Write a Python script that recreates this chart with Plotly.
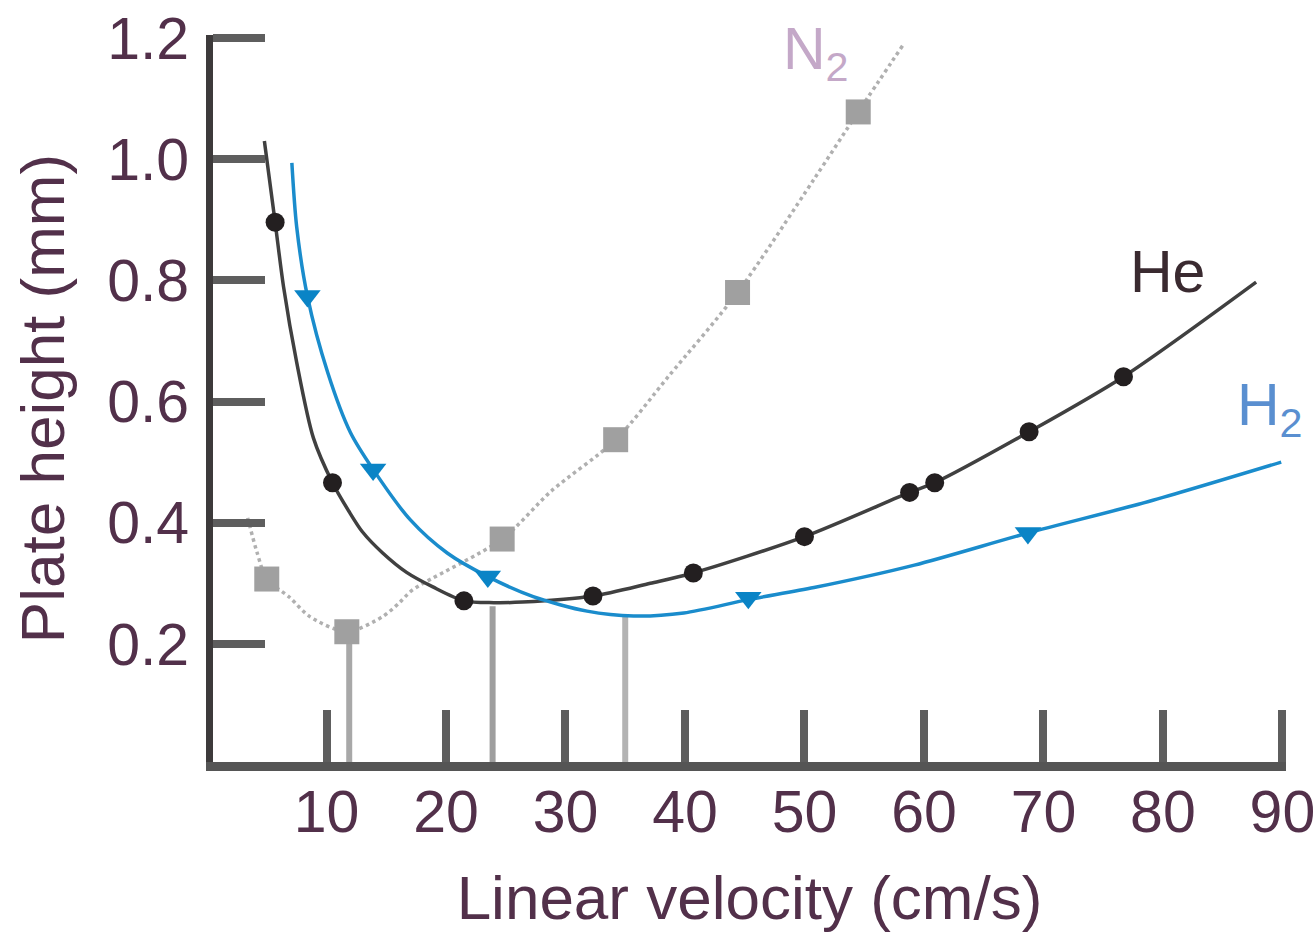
import plotly.graph_objects as go

# ---------------- data ----------------
# He curve (line) and measured points (markers)
he_curve_x = [4.8, 5.7, 6.4, 7.5, 8.9, 10.5, 11.9, 13.0, 14.7, 16.7, 18.9, 21.5, 24.0, 26.4, 32.3, 37.1, 40.7, 50.0, 58.8, 60.9, 68.8, 76.7, 87.8]
he_curve_y = [1.030, 0.896, 0.790, 0.665, 0.540, 0.466, 0.418, 0.385, 0.350, 0.318, 0.294, 0.271, 0.268, 0.269, 0.279, 0.300, 0.317, 0.377, 0.450, 0.466, 0.550, 0.641, 0.797]
he_pts_x = [5.7, 10.5, 21.5, 32.3, 40.7, 50.0, 58.8, 60.9, 68.8, 76.7]
he_pts_y = [0.896, 0.466, 0.271, 0.279, 0.317, 0.377, 0.450, 0.466, 0.550, 0.641]

# H2 curve and points
h2_curve_x = [7.1, 7.5, 8.4, 10.1, 12.0, 13.9, 17.0, 20.1, 23.5, 27.3, 31.8, 35.7, 39.9, 45.3, 50.8, 59.2, 68.7, 78.8, 89.9]
h2_curve_y = [0.994, 0.889, 0.774, 0.648, 0.549, 0.488, 0.405, 0.350, 0.311, 0.278, 0.254, 0.246, 0.251, 0.273, 0.293, 0.330, 0.383, 0.435, 0.500]
h2_pts_x = [8.4, 13.9, 23.5, 45.3, 68.7]
h2_pts_y = [0.774, 0.488, 0.311, 0.276, 0.383]

# N2 curve and points
n2_curve_x = [3.4, 4.2, 5.0, 6.9, 8.6, 11.7, 14.7, 16.1, 17.2, 24.7, 28.8, 34.2, 38.6, 44.4, 50.8, 54.5, 58.3]
n2_curve_y = [0.408, 0.350, 0.307, 0.277, 0.245, 0.220, 0.245, 0.268, 0.289, 0.373, 0.452, 0.537, 0.641, 0.780, 0.967, 1.078, 1.190]
n2_pts_x = [5.0, 11.7, 24.7, 34.2, 44.4, 54.5]
n2_pts_y = [0.307, 0.220, 0.373, 0.537, 0.780, 1.078]

# optimum velocities (drop lines) : N2, He, H2
opt_gas = ["N2", "He", "H2"]
opt_velocity = [11.9, 23.9, 35.0]
opt_height = [0.220, 0.262, 0.246]
opt_colors = ["#a8a8a8", "#9e9e9e", "#b3b3b3"]

x_ticks = [10, 20, 30, 40, 50, 60, 70, 80, 90]
y_ticks = [0.2, 0.4, 0.6, 0.8, 1.0, 1.2]
y_ticklabels = ["0.2", "0.4", "0.6", "0.8", "1.0", "1.2"]

# ---------------- figure ----------------
FONT = "Liberation Sans, Arial, Helvetica, sans-serif"
TXT = "#52304a"

fig = go.Figure()

# drop lines
for g, vx, vy, c in zip(opt_gas, opt_velocity, opt_height, opt_colors):
    fig.add_trace(go.Scatter(x=[vx, vx], y=[0, vy], mode="lines",
                             line=dict(color=c, width=6), showlegend=False,
                             hoverinfo="skip"))

# N2
fig.add_trace(go.Scatter(x=n2_curve_x, y=n2_curve_y, mode="lines",
                         line=dict(color="#b0b0b0", width=3.5, dash="dot",
                                   shape="spline", smoothing=0.8),
                         showlegend=False))
fig.add_trace(go.Scatter(x=n2_pts_x, y=n2_pts_y, mode="markers",
                         marker=dict(symbol="square", size=25, color="#a0a0a0"),
                         showlegend=False))

# He
fig.add_trace(go.Scatter(x=he_curve_x, y=he_curve_y, mode="lines",
                         line=dict(color="#404040", width=3.5,
                                   shape="spline", smoothing=0.8),
                         showlegend=False))
fig.add_trace(go.Scatter(x=he_pts_x, y=he_pts_y, mode="markers",
                         marker=dict(symbol="circle", size=19, color="#231f20"),
                         showlegend=False))

# H2
fig.add_trace(go.Scatter(x=h2_curve_x, y=h2_curve_y, mode="lines",
                         line=dict(color="#1a8ccc", width=3.5,
                                   shape="spline", smoothing=0.8),
                         showlegend=False))
fig.add_trace(go.Scatter(x=h2_pts_x, y=h2_pts_y, mode="markers",
                         marker=dict(symbol="triangle-down", size=23, color="#0a84c6"),
                         showlegend=False))

# curve labels
fig.add_annotation(x=80.4, y=0.814, text="He", showarrow=False,
                   font=dict(family=FONT, size=59, color="#3a2a30"),
                   xanchor="center", yanchor="middle")
fig.add_annotation(x=86.0, y=0.588, text="H<sub>2</sub>", showarrow=False,
                   font=dict(family=FONT, size=59, color="#5a8fd0"),
                   xanchor="left", yanchor="middle")
fig.add_annotation(x=48.0, y=1.175, text="N<sub>2</sub>", showarrow=False,
                   font=dict(family=FONT, size=59, color="#c4a8c8"),
                   xanchor="left", yanchor="middle")

fig.update_xaxes(range=[0.5, 90.3], tickvals=x_ticks, ticktext=[str(v) for v in x_ticks],
                 ticks="inside", ticklen=52, tickwidth=8, tickcolor="#5e5e5e",
                 showline=True, linecolor="#555555", linewidth=9,
                 showgrid=False, zeroline=False, ticklabelstandoff=-10,
                 tickfont=dict(family=FONT, size=59, color=TXT),
                 title=dict(text="Linear velocity (cm/s)", standoff=36,
                            font=dict(family=FONT, size=62, color=TXT)))
fig.update_yaxes(range=[0.005, 1.205], tickvals=y_ticks, ticktext=y_ticklabels,
                 ticks="inside", ticklen=52, tickwidth=8, tickcolor="#5e5e5e",
                 showline=True, linecolor="#3d3a3b", linewidth=7,
                 showgrid=False, zeroline=False, ticklabelstandoff=5,
                 tickfont=dict(family=FONT, size=59, color=TXT),
                 title=dict(text="Plate height (mm)", standoff=25,
                            font=dict(family=FONT, size=62, color=TXT)))

fig.update_layout(width=1316, height=932,
                  margin=dict(l=213, r=30, t=35, b=170, autoexpand=False),
                  plot_bgcolor="white", paper_bgcolor="white",
                  showlegend=False)

fig.write_html("out.html",
               config={"displayModeBar": False, "staticPlot": True},
               post_script="document.body.style.margin='0';document.body.style.overflow='hidden';")
